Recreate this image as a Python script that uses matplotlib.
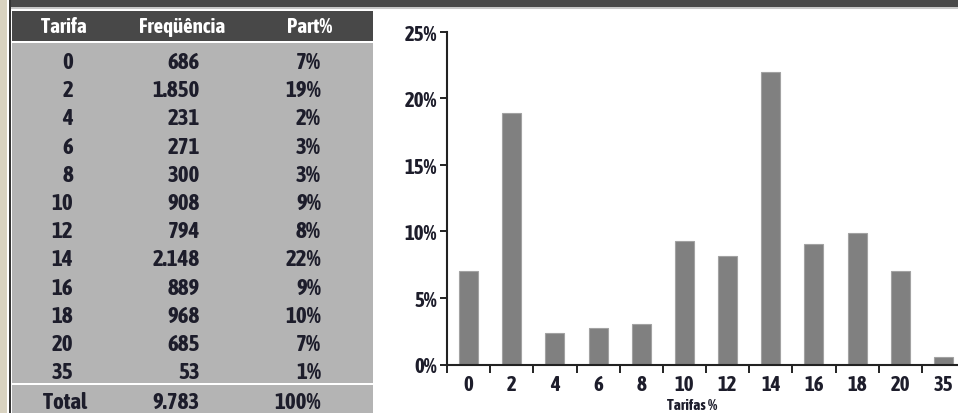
import numpy as np
import matplotlib
matplotlib.use("Agg")
import matplotlib.pyplot as plt
from matplotlib.patches import Rectangle
from matplotlib.ticker import PercentFormatter
from matplotlib import font_manager

tarifas = ['0', '2', '4', '6', '8', '10', '12', '14', '16', '18', '20', '35']
frequencia = [686, 1850, 231, 271, 300, 908, 794, 2148, 889, 968, 685, 53]
col_titles = ['Tarifa', 'Freqüência', 'Part%']
xlabel = 'Tarifas %'

total = sum(frequencia)
share = [f / total for f in frequencia]


def _w(f):
    w = f.weight
    if isinstance(w, str):
        w = {'bold': 700, 'heavy': 800, 'black': 900, 'extra bold': 800,
             'semibold': 600, 'demibold': 600}.get(w, 400)
    return w

# prefer a bold narrow face if one is installed
narrow = [f for f in font_manager.fontManager.ttflist
          if ('Narrow' in f.name or 'Condensed' in f.name) and _w(f) >= 700]
narrow.sort(key=lambda f: (_w(f), f.name))
FONT = narrow[0].name if narrow else 'Liberation Sans'
plt.rcParams['font.family'] = [FONT, 'DejaVu Sans']
plt.rcParams['font.weight'] = 'bold'


def fmt_int(v):
    return f"{v:,}".replace(',', '.')


W, H = 958, 414
fig = plt.figure(figsize=(W / 100, H / 100), dpi=100)
fig.patch.set_facecolor('white')

# background layer in pixel coordinates
bg = fig.add_axes([0, 0, 1, 1])
bg.set_xlim(0, W)
bg.set_ylim(H, 0)
bg.axis('off')

def box(x0, y0, x1, y1, color, z=1):
    bg.add_patch(Rectangle((x0, y0), x1 - x0, y1 - y0, facecolor=color,
                           edgecolor='none', zorder=z))

box(0, 0, 7, H, '#d8d2c0')
box(9, 0, 11.5, H, '#353535')
box(11.5, 0, W, 8, '#4a4a4a')
box(11.5, 8, W, 9.5, '#c9c9c9')

# table
box(12, 12, 373, 42, '#484848')
box(12, 43.5, 373, 384, '#b4b4b4')
box(12, 386.5, 373, H, '#b4b4b4')

dark = '#1d1d2b'
hdr_y = 27
bg.text(64, hdr_y, col_titles[0], color='white', fontsize=15, ha='center', va='center', zorder=3)
bg.text(182, hdr_y, col_titles[1], color='white', fontsize=15, ha='center', va='center', zorder=3)
bg.text(310, hdr_y, col_titles[2], color='white', fontsize=15, ha='center', va='center', zorder=3)

row0, step = 63, 28.2
fs = 16.5
for i, (t, f, s) in enumerate(zip(tarifas, frequencia, share)):
    y = row0 + i * step
    bg.text(73, y, t, color=dark, fontsize=fs, ha='right', va='center', zorder=2)
    bg.text(200, y, fmt_int(f), color=dark, fontsize=fs, ha='right', va='center', zorder=2)
    bg.text(321, y, f"{round(s * 100)}%", color=dark, fontsize=fs, ha='right', va='center', zorder=2)

# white divider above the total row
box(12, 384, 373, 386.5, 'white', z=4)
bg.text(65, 403, 'Total', color=dark, fontsize=fs, ha='center', va='center', zorder=2)
bg.text(200, 403, fmt_int(total), color=dark, fontsize=fs, ha='right', va='center', zorder=2)
bg.text(321, 403, f"{round(sum(share) * 100)}%", color=dark, fontsize=fs, ha='right', va='center', zorder=2)

# bar chart
x0_px, x1_px = 447, 965
y0_px, y1_px = 365.5, 32.7
ax = fig.add_axes([x0_px / W, (H - y0_px) / H, (x1_px - x0_px) / W, (y0_px - y1_px) / H])
ax.set_facecolor('none')
x = np.arange(len(tarifas))
ax.bar(x, share, width=0.44, color='#808080', edgecolor='#a2a2a2', linewidth=0.8, zorder=2)
ax.set_xlim(-0.5, len(tarifas) - 0.5)
ax.set_ylim(0, 0.25)
ax.set_yticks(np.arange(0, 0.26, 0.05))
ax.yaxis.set_major_formatter(PercentFormatter(1.0, decimals=0))

ax.set_xticks(np.arange(len(tarifas) + 1) - 0.5)
ax.set_xticklabels([])
ax.set_xticks(x, minor=True)
ax.set_xticklabels(tarifas, minor=True)
ax.tick_params(axis='x', which='major', length=6, width=1.4, color='#222222', direction='out')
ax.tick_params(axis='x', which='minor', length=0, pad=7, labelsize=15, labelcolor=dark)
ax.tick_params(axis='y', length=5, width=1.4, color='#222222', direction='out',
               labelsize=15, labelcolor=dark, pad=2)

for side in ('top', 'right'):
    ax.spines[side].set_visible(False)
for side in ('left', 'bottom'):
    ax.spines[side].set_linewidth(1.5)
    ax.spines[side].set_color('#222222')

bg.text(692, 413, xlabel, color=dark, fontsize=11, ha='center', va='bottom', zorder=3)

fig.savefig('out.png', dpi=100)
